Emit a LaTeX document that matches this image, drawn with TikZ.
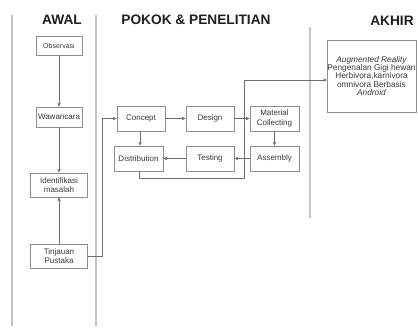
\documentclass[tikz,border=0pt]{standalone}
\usepackage{fontspec}
\setmainfont{Liberation Sans}
\usetikzlibrary{arrows.meta}
\definecolor{lanegray}{HTML}{C4C4C4}
\definecolor{boxgray}{HTML}{8E8E8E}
\definecolor{linegray}{HTML}{6E6E6E}
\definecolor{txt}{HTML}{3A3A3A}
\begin{document}
\begin{tikzpicture}[x=1pt,y=-1pt,
  lane/.style={draw=lanegray,line width=1.2pt},
  title/.style={font=\fontsize{13.7}{15}\selectfont\bfseries,text=black!88,inner sep=0pt},
  stepbox/.style={draw=boxgray,line width=0.6pt,inner sep=0pt,align=center,
    text=txt,font=\fontsize{8}{9.2}\selectfont},
  link/.style={draw=linegray,line width=0.55pt,-{Stealth[length=4pt,width=3.4pt]}},
  plain/.style={draw=linegray,line width=0.55pt}]
\useasboundingbox (0,0) rectangle (418,327);
\fill[white] (0,0) rectangle (418,327);

% swimlane separators
\draw[lane] (12,15) -- (12,326);
\draw[lane] (96,15) -- (96,326);
\draw[lane] (310,27) -- (310,218);

% lane titles
\node[title] (tawal) at (62,20) {AWAL};
\node[title] (tpokok) at (196,20) {POKOK \& PENELITIAN};
\node[title] (takhir) at (392,21) {AKHIR};

% AWAL column
\node[stepbox,minimum width=46pt,minimum height=19pt,font=\fontsize{7}{8}\selectfont] (obs) at (59,45.5) {Observasi};
\node[stepbox,minimum width=46pt,minimum height=20pt] (waw) at (59,117) {Wawancara};
\node[stepbox,minimum width=57pt,minimum height=24pt] (idm) at (59,185) {Identifikasi\\masalah};
\node[stepbox,minimum width=57pt,minimum height=24pt] (tin) at (59,256) {Tinjauan\\Pustaka};

% POKOK & PENELITIAN column
\node[stepbox,minimum width=48pt,minimum height=25pt] (con) at (141,118.5) {Concept};
\node[stepbox,minimum width=48pt,minimum height=25pt] (des) at (210,118.5) {Design};
\node[stepbox,minimum width=49pt,minimum height=25pt] (mat) at (274.5,118.5) {Material\\Collecting};
\node[stepbox,minimum width=49pt,minimum height=25pt] (dis) at (138.5,158.5) {Distribution};
\node[stepbox,minimum width=48pt,minimum height=25pt] (tes) at (210,158.5) {Testing};
\node[stepbox,minimum width=49pt,minimum height=25pt] (asm) at (274.5,158.5) {Assembly};

% AKHIR column
\node[stepbox,minimum width=89pt,minimum height=72pt,font=\fontsize{8.3}{8.4}\selectfont] (akh) at (371.5,76)
  {\itshape Augmented Reality\\Pengenalan Gigi hewan\\Herbivora,karnivora\\omnivora Berbasis\\\itshape Android};

% routing points
\coordinate (r1) at (102,256);
\coordinate (r2) at (102,118.5);
\coordinate (c1) at (140,0);
\coordinate (d1) at (139,178);
\coordinate (d2) at (244,178);
\coordinate (d3) at (244,80);
\coordinate (d4) at (327,80);

% connectors
\draw[link] (obs) -- (waw);
\draw[link] (waw) -- (idm);
\draw[link] (tin) -- (idm);
\draw[link] (tin.east) -- (r1) -- (r2) -- (con.west);
\draw[link] (con) -- (des);
\draw[link] (des) -- (mat);
\draw[link] (mat) -- (asm);
\draw[link] (asm) -- (tes);
\draw[link] (tes) -- (dis);
\draw[link] (con.south -| c1) -- (dis.north -| c1);
\draw[link] (dis.south -| d1) -- (d1) -- (d2) -- (d3) -- (d4);
\end{tikzpicture}
\end{document}
